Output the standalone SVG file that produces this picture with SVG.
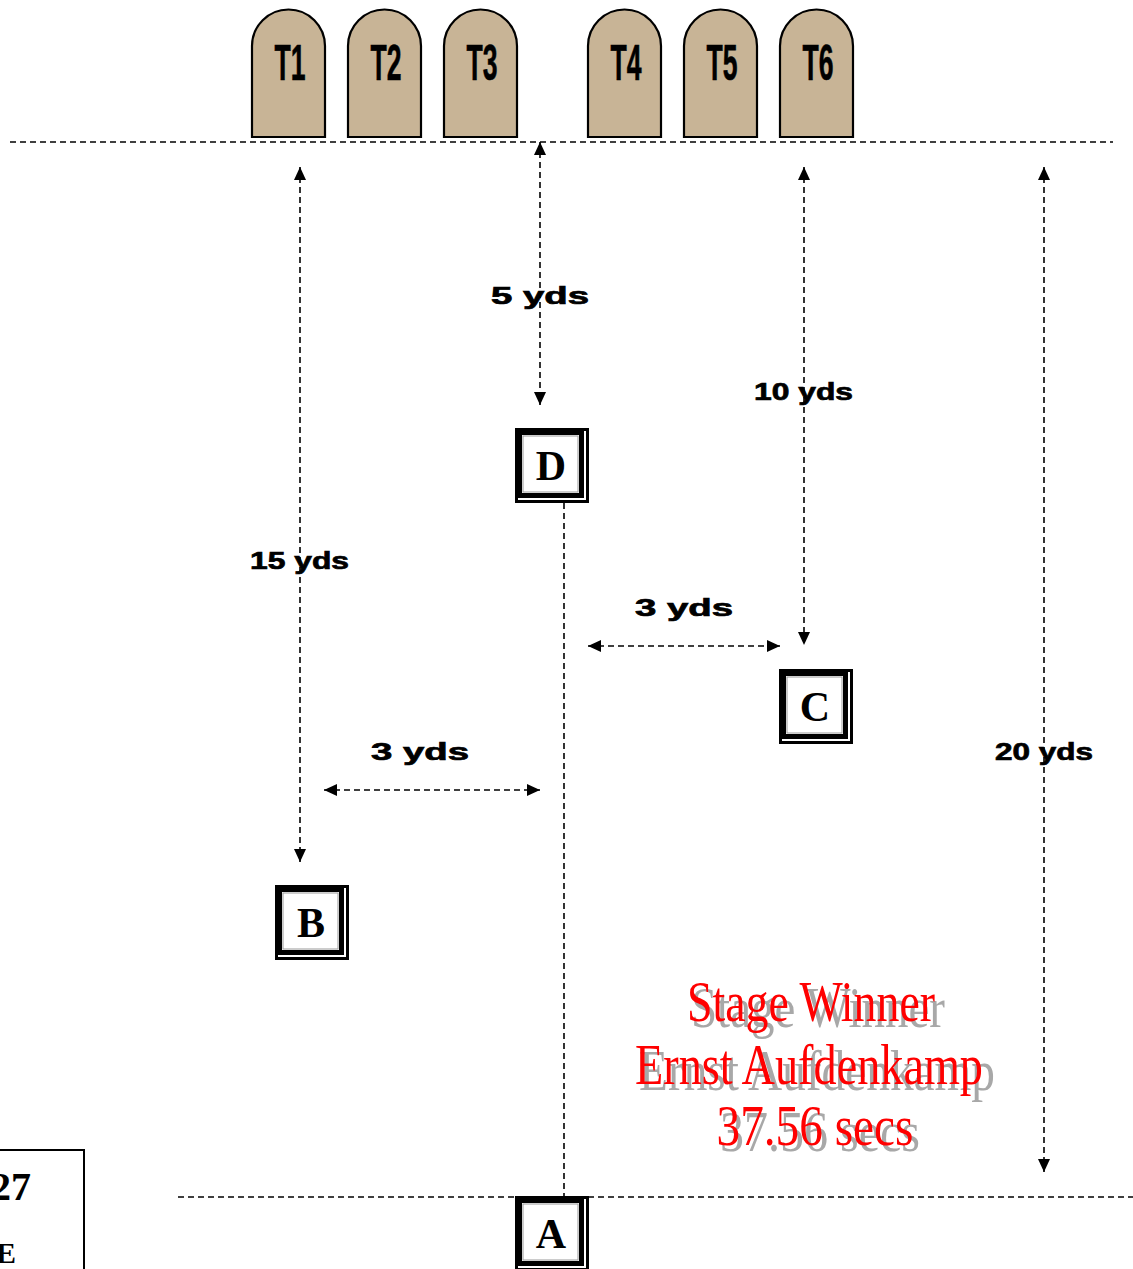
<svg xmlns="http://www.w3.org/2000/svg" width="1133" height="1269" viewBox="0 0 1133 1269">
<defs>
<style>
.dash{stroke:#000;stroke-width:1.6;stroke-dasharray:6,4;fill:none}
.arr{marker-start:url(#ah);marker-end:url(#ah)}
.tomb{fill:#c8b496;stroke:#000;stroke-width:2.2}
.tl{font-family:"Liberation Sans Narrow","Liberation Sans",Arial,sans-serif;font-weight:bold;font-size:50px;text-anchor:middle;fill:#000;stroke:#000;stroke-width:0.6}
.dim{font-family:"Liberation Sans",Arial,sans-serif;font-weight:bold;font-size:24px;fill:#000;stroke:#000;stroke-width:0.7}
.bl{font-family:"Liberation Serif","Times New Roman",serif;font-weight:bold;font-size:42px;text-anchor:middle;fill:#000}
.win{font-family:"Liberation Serif","Times New Roman",serif;font-size:57px;text-anchor:middle}
</style>
<marker id="ah" viewBox="0 0 13 12" refX="13" refY="6" markerWidth="13" markerHeight="12" markerUnits="userSpaceOnUse" orient="auto-start-reverse">
<path d="M0,0 L13,6 L0,12 Z" fill="#000"/>
</marker>
<g id="boxshape">
<rect x="1.5" y="1.5" width="71" height="72" fill="#fff" stroke="#000" stroke-width="3"/>
<rect x="4.5" y="4.5" width="62" height="63" fill="#fff" stroke="#000" stroke-width="5"/>
<rect x="8" y="8" width="55" height="56" fill="none" stroke="#999" stroke-width="1"/>
</g>
</defs>
<rect width="1133" height="1269" fill="#fff"/>

<g id="tombstones">
<g id="T1"><path class="tomb" d="M252,137 L252,46 A36.5,36.5 0 0 1 325,46 L325,137 Z"/><text class="tl" x="290" y="80" textLength="31" lengthAdjust="spacingAndGlyphs">T1</text></g>
<g id="T2"><path class="tomb" d="M348,137 L348,46 A36.5,36.5 0 0 1 421,46 L421,137 Z"/><text class="tl" x="386" y="80" textLength="31" lengthAdjust="spacingAndGlyphs">T2</text></g>
<g id="T3"><path class="tomb" d="M444,137 L444,46 A36.5,36.5 0 0 1 517,46 L517,137 Z"/><text class="tl" x="482" y="80" textLength="31" lengthAdjust="spacingAndGlyphs">T3</text></g>
<g id="T4"><path class="tomb" d="M588,137 L588,46 A36.5,36.5 0 0 1 661,46 L661,137 Z"/><text class="tl" x="626" y="80" textLength="31" lengthAdjust="spacingAndGlyphs">T4</text></g>
<g id="T5"><path class="tomb" d="M684,137 L684,46 A36.5,36.5 0 0 1 757,46 L757,137 Z"/><text class="tl" x="722" y="80" textLength="31" lengthAdjust="spacingAndGlyphs">T5</text></g>
<g id="T6"><path class="tomb" d="M780,137 L780,46 A36.5,36.5 0 0 1 853,46 L853,137 Z"/><text class="tl" x="818" y="80" textLength="31" lengthAdjust="spacingAndGlyphs">T6</text></g>
</g>

<g id="connectors">
<line class="dash" x1="10" y1="142" x2="1113" y2="142"/>
<line class="dash" x1="178" y1="1197" x2="1133" y2="1197"/>
<line class="dash arr" x1="300" y1="167" x2="300" y2="862"/>
<line class="dash arr" x1="540" y1="142" x2="540" y2="405"/>
<line class="dash arr" x1="804" y1="167" x2="804" y2="645"/>
<line class="dash arr" x1="1044" y1="167" x2="1044" y2="1172"/>
<line class="dash arr" x1="588" y1="646" x2="780" y2="646"/>
<line class="dash arr" x1="324" y1="790" x2="540" y2="790"/>
<line class="dash" x1="564" y1="503" x2="564" y2="1197"/>
</g>

<g id="labels">
<text class="dim" x="250" y="569" textLength="99" lengthAdjust="spacingAndGlyphs">15 yds</text>
<text class="dim" x="491" y="304" textLength="98" lengthAdjust="spacingAndGlyphs">5 yds</text>
<text class="dim" x="754" y="400" textLength="99" lengthAdjust="spacingAndGlyphs">10 yds</text>
<text class="dim" x="635" y="616" textLength="98" lengthAdjust="spacingAndGlyphs">3 yds</text>
<text class="dim" x="371" y="760" textLength="98" lengthAdjust="spacingAndGlyphs">3 yds</text>
<text class="dim" x="995" y="760" textLength="98" lengthAdjust="spacingAndGlyphs">20 yds</text>
</g>

<g id="D" transform="translate(515,428)"><use href="#boxshape"/><text class="bl" x="36" y="52">D</text></g>
<g id="C" transform="translate(779,669)"><use href="#boxshape"/><text class="bl" x="36" y="52">C</text></g>
<g id="B" transform="translate(275,885)"><use href="#boxshape"/><text class="bl" x="36" y="52">B</text></g>
<g id="A" transform="translate(515,1196)"><use href="#boxshape"/><text class="bl" x="36" y="52">A</text></g>

<g id="stagebox">
<rect x="-5" y="1150" width="89" height="130" fill="#fff" stroke="#000" stroke-width="2"/>
<text x="31" y="1200" font-family="Liberation Serif,Times New Roman,serif" font-weight="bold" font-size="40" text-anchor="end">27</text>
<text x="16" y="1263" font-family="Liberation Serif,Times New Roman,serif" font-weight="bold" font-size="30" text-anchor="end">E</text>
</g>

<g id="winner">
<g fill="#a8a8a8">
<text class="win" x="818" y="1027" textLength="254" lengthAdjust="spacingAndGlyphs">Stage Winner</text>
<text class="win" x="817" y="1090" textLength="356" lengthAdjust="spacingAndGlyphs">Ernst Aufdenkamp</text>
<text class="win" x="820" y="1151" textLength="200" lengthAdjust="spacingAndGlyphs">37.56 secs</text>
</g>
<g fill="#ff0000">
<text class="win" x="811" y="1021" textLength="248" lengthAdjust="spacingAndGlyphs">Stage Winner</text>
<text class="win" x="809" y="1084" textLength="348" lengthAdjust="spacingAndGlyphs">Ernst Aufdenkamp</text>
<text class="win" x="815" y="1145" textLength="197" lengthAdjust="spacingAndGlyphs">37.56 secs</text>
</g>
</g>
</svg>
